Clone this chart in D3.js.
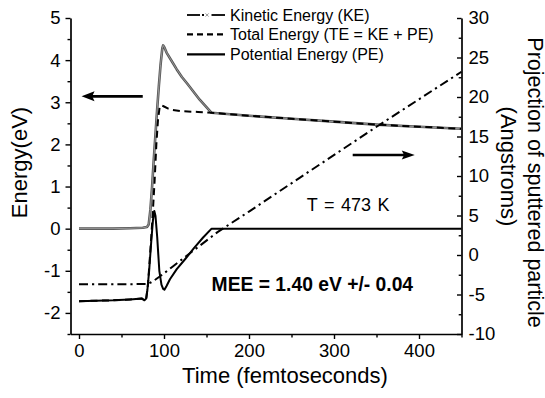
<!DOCTYPE html>
<html><head><meta charset="utf-8">
<script src="https://cdn.jsdelivr.net/npm/d3@7"></script>
<style>
body{margin:0;background:#fff}
svg{display:block}
text{font-family:"Liberation Sans",Arial,Helvetica,sans-serif;fill:#000}
</style>
</head><body>
<svg id="c" width="545" height="398"></svg>
<script>
// ---- data (time in fs, energies in eV, projection in Angstroms) ----
const keTime   = [0,20,40,60,75,80,82,84,86,88,90,92,94,96,98,99,100.5,103,109,115,121,127,142,156,200,250,300,350,400,450];
const keValues = [0,0,0,0.01,0.02,0.04,0.1,0.45,1.0,1.65,2.25,2.85,3.4,3.9,4.28,4.35,4.3,4.18,3.98,3.78,3.6,3.45,3.06,2.75,2.68,2.61,2.54,2.47,2.42,2.37];

const teTime   = [0,20,40,60,74,77,79,81,83,85,87,89,91,93,95,97,100,105,110,120,140,156,200,250,300,350,400,450];
const teValues = [-1.72,-1.71,-1.70,-1.68,-1.66,-1.70,-1.68,-1.35,-0.8,-0.2,0.45,1.15,2.0,2.6,2.9,2.93,2.9,2.85,2.82,2.79,2.77,2.75,2.68,2.61,2.54,2.47,2.42,2.37];

const peTime   = [0,20,40,60,74,77,79,80.5,82.5,85,87,88.6,90,92,94.5,97,99,100.5,103,107,115,125,135,146,156,200,300,450];
const peValues = [-1.72,-1.71,-1.70,-1.68,-1.66,-1.70,-1.66,-1.45,-1.0,-0.3,0.2,0.42,0.3,-0.2,-1.0,-1.33,-1.43,-1.45,-1.36,-1.2,-0.96,-0.72,-0.47,-0.21,0,0,0,0];

const projTime   = [0,40,80,85,90,95,100,110,120,140,163,200,260,351,450];
const projValues = [-3.7,-3.7,-3.68,-3.45,-3.1,-2.72,-2.32,-1.48,-0.65,1.0,2.9,5.5,9.8,16.3,23.2];

const xTicks      = [0,100,200,300,400];
const xMinor      = [50,150,250,350,450];
const yLeftTicks  = [-2,-1,0,1,2,3,4,5];
const yLeftMinor  = [-2.5,-1.5,-0.5,0.5,1.5,2.5,3.5,4.5];
const yRightTicks = [-10,-5,0,5,10,15,20,25,30];
const yRightMinor = [-7.5,-2.5,2.5,7.5,12.5,17.5,22.5,27.5];

const legendLabels = ["Kinetic Energy (KE)","Total Energy (TE = KE + PE)","Potential Energy (PE)"];
const xTitle = "Time (femtoseconds)";
const yLeftTitle = "Energy(eV)";
const yRightTitle = ["Projection of sputtered particle","(Angstroms)"];
const noteT = "T = 473 K";
const noteMEE = "MEE = 1.40 eV +/- 0.04";

// annotation anchors in data units
const leftArrow  = {t0:75, t1:3, e:3.14};      // left axis units
const rightArrow = {t0:322, t1:395, p:12.66};  // right axis units
const noteTPos   = {t:268, e:0.41};
const noteMPos   = {t:156, e:-1.47};

// ---- scales ----
const svg = d3.select("#c");
const x  = d3.scaleLinear().domain([-10,450]).range([70.5,461.5]);
const yL = d3.scaleLinear().domain([-2.5,5]).range([334,18]);
const yR = d3.scaleLinear().domain([-10,30]).range([334,18]);
const fmt = d => String(d);

// ---- axes ----
function styleAxis(g, fs){
  g.select(".domain").attr("stroke","#000").attr("stroke-width",1.7);
  g.selectAll(".tick line").attr("stroke","#000").attr("stroke-width",1.4);
  g.selectAll("text").attr("font-size",fs).attr("font-family",'"Liberation Sans",Arial,sans-serif').attr("fill","#000");
}
const gx = svg.append("g").attr("transform",`translate(0,${yL(-2.5)})`)
  .call(d3.axisBottom(x).tickValues(xTicks).tickSize(5).tickSizeOuter(0).tickPadding(5).tickFormat(fmt));
styleAxis(gx,"18.5px");
const gxm = svg.append("g").attr("transform",`translate(0,${yL(-2.5)})`)
  .call(d3.axisBottom(x).tickValues(xMinor).tickSize(3.5).tickSizeOuter(0).tickFormat(""));
gxm.select(".domain").remove(); styleAxis(gxm,"0");

const gl = svg.append("g").attr("transform",`translate(${x(-10)},0)`)
  .call(d3.axisLeft(yL).tickValues(yLeftTicks).tickSize(5).tickSizeOuter(0).tickPadding(5).tickFormat(fmt));
styleAxis(gl,"18.5px");
const glm = svg.append("g").attr("transform",`translate(${x(-10)},0)`)
  .call(d3.axisLeft(yL).tickValues(yLeftMinor).tickSize(3).tickSizeOuter(0).tickFormat(""));
glm.select(".domain").remove(); styleAxis(glm,"0");

const gr = svg.append("g").attr("transform",`translate(${x(450)},0)`)
  .call(d3.axisRight(yR).tickValues(yRightTicks).tickSize(-4.5).tickSizeOuter(0).tickPadding(7).tickFormat(fmt));
styleAxis(gr,"18.5px");
const grm = svg.append("g").attr("transform",`translate(${x(450)},0)`)
  .call(d3.axisRight(yR).tickValues(yRightMinor).tickSize(-2.8).tickSizeOuter(0).tickFormat(""));
grm.select(".domain").remove(); styleAxis(grm,"0");

// ---- titles ----
svg.append("text").attr("x",285).attr("y",383).attr("text-anchor","middle").attr("font-size","22px").text(xTitle);
svg.append("text").attr("transform","translate(27,162.5) rotate(-90)").attr("text-anchor","middle").attr("font-size","22px").text(yLeftTitle);
svg.append("text").attr("transform","translate(527.5,182.5) rotate(90)").attr("text-anchor","middle").attr("font-size","21.5px").text(yRightTitle[0]);
svg.append("text").attr("transform","translate(500.5,166.5) rotate(90)").attr("text-anchor","middle").attr("font-size","22px").text(yRightTitle[1]);

// ---- series ----
const lineL = (ts,vs) => d3.line().x((d,i)=>x(ts[i])).y(d=>yL(d))(vs);
const lineR = (ts,vs) => d3.line().x((d,i)=>x(ts[i])).y(d=>yR(d))(vs);

const keD = lineL(keTime,keValues);
svg.append("path").attr("d",keD).attr("fill","none").attr("stroke","#555").attr("stroke-width",2.6).attr("stroke-linejoin","round");
svg.append("path").attr("d",keD).attr("fill","none").attr("stroke","#a8a8a8").attr("stroke-width",0.8).attr("stroke-linejoin","round");

svg.append("path").attr("d",lineL(teTime,teValues)).attr("fill","none").attr("stroke","#000")
  .attr("stroke-width",2).attr("stroke-dasharray","7,4.5");

svg.append("path").attr("d",lineL(peTime,peValues)).attr("fill","none").attr("stroke","#000")
  .attr("stroke-width",2).attr("stroke-linejoin","round");

svg.append("path").attr("d",lineR(projTime,projValues)).attr("fill","none").attr("stroke","#000")
  .attr("stroke-width",2).attr("stroke-dasharray","9,4,2.2,4");

// ---- legend ----
const lgY = [15,34.3,54.3];
const lg = svg.append("g");
// KE sample
lg.append("line").attr("x1",187).attr("x2",200).attr("y1",lgY[0]).attr("y2",lgY[0]).attr("stroke","#000").attr("stroke-width",1.8);
lg.append("line").attr("x1",202).attr("x2",204).attr("y1",lgY[0]).attr("y2",lgY[0]).attr("stroke","#000").attr("stroke-width",1.8);
lg.append("path").attr("d",`M${205.5},${lgY[0]-1.6}l3.2,3.2M${205.5},${lgY[0]+1.6}l3.2,-3.2`).attr("stroke","#999").attr("stroke-width",1);
lg.append("line").attr("x1",211.5).attr("x2",225).attr("y1",lgY[0]).attr("y2",lgY[0]).attr("stroke","#000").attr("stroke-width",1.8);
// TE sample
lg.append("line").attr("x1",187).attr("x2",225).attr("y1",lgY[1]).attr("y2",lgY[1]).attr("stroke","#000").attr("stroke-width",2.2).attr("stroke-dasharray","6,4");
// PE sample
lg.append("line").attr("x1",187).attr("x2",225).attr("y1",lgY[2]).attr("y2",lgY[2]).attr("stroke","#000").attr("stroke-width",2.2);
legendLabels.forEach((s,i)=>{
  lg.append("text").attr("x",230).attr("y",lgY[i]+5.6).attr("font-size","16px").text(s);
});

// ---- arrows ----
function arrow(x0,y0,x1,y1,len,half){
  const dir = Math.sign(x1-x0);
  svg.append("line").attr("x1",x0).attr("x2",x1-dir*len*0.8).attr("y1",y0).attr("y2",y1)
    .attr("stroke","#000").attr("stroke-width",2.6);
  svg.append("path").attr("d",`M${x1},${y1}L${x1-dir*len},${y1-half}L${x1-dir*len*0.82},${y1}L${x1-dir*len},${y1+half}Z`).attr("fill","#000");
}
arrow(x(leftArrow.t0),yL(leftArrow.e),x(leftArrow.t1),yL(leftArrow.e),13,5);
arrow(x(rightArrow.t0),yR(rightArrow.p),x(rightArrow.t1),yR(rightArrow.p),13,4.5);

// ---- notes ----
svg.append("text").attr("x",x(noteTPos.t)).attr("y",yL(noteTPos.e)).attr("font-size","18px").attr("word-spacing","1.5px").text(noteT);
svg.append("text").attr("x",x(noteMPos.t)).attr("y",yL(noteMPos.e)).attr("font-size","19.3px").attr("font-weight","bold").text(noteMEE);
</script>
</body></html>
